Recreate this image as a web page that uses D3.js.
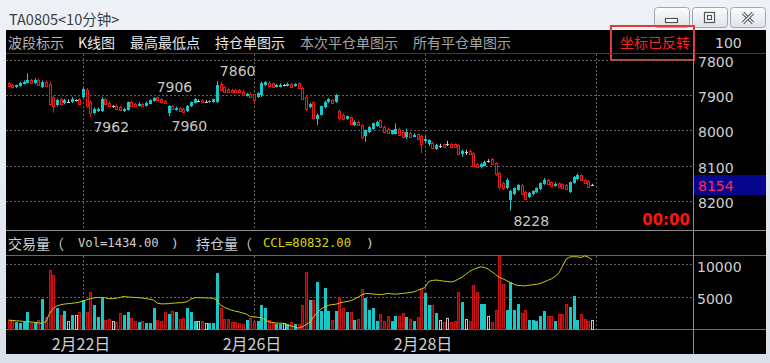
<!DOCTYPE html>
<html><head><meta charset="utf-8">
<script src="https://cdn.jsdelivr.net/npm/d3@7/dist/d3.min.js"></script>
<style>html,body{margin:0;padding:0;background:#dfe6ee;overflow:hidden}svg{display:block}</style>
</head><body><svg id="c" width="770" height="363"></svg>
<script>
// ---------- DATA ----------
const opens = [
7866,7872,7878,7873,7868,7864,7858,7866,7856,7878,
7862,7868,7905,7928,7912,7922,7918,7920,7915,7912,
7905,7884,7920,7950,7945,7944,7912,7922,7932,7930,
7934,7945,7942,7920,7925,7930,7926,7930,7924,7916,
7906,7910,7916,7952,7932,7942,7936,7938,7946,7932,
7922,7916,7914,7918,7920,7920,7918,7868,7878,7882,
7884,7884,7884,7890,7902,7896,7898,7905,7900,7872,
7864,7866,7876,7876,7872,7874,7868,7874,7866,7880,
7905,7935,7920,7968,7955,7935,7920,7914,7920,7945,
7955,7968,7962,7985,7975,7985,8015,8005,7995,7988,
7970,7990,7995,8010,8010,7995,8005,8020,8008,8018,
8010,8015,8030,8040,8035,8052,8044,8040,8040,8038,
8040,8042,8068,8062,8058,8065,8095,8105,8100,8088,
8082,8092,8120,8150,8165,8198,8180,8170,8155,8175,
8190,8182,8175,8168,8152,8140,8148,8158,8150,8152,
8155,8175,8150,8138,8128,8140,8145,8154];
const closes = [
7874,7878,7872,7866,7862,7856,7866,7856,7872,7862,
7874,7925,7930,7915,7925,7914,7918,7912,7915,7926,
7882,7930,7952,7940,7938,7910,7925,7930,7932,7938,
7942,7938,7920,7930,7932,7925,7930,7922,7915,7908,
7914,7920,7922,7932,7940,7936,7945,7948,7930,7920,
7912,7916,7920,7918,7916,7912,7870,7885,7890,7892,
7892,7892,7892,7900,7896,7906,7915,7895,7866,7862,
7875,7878,7872,7870,7872,7868,7876,7868,7880,7912,
7940,7925,7965,7955,7932,7918,7912,7922,7900,7965,
7968,7960,7982,7975,7985,8020,8000,7990,7980,7975,
7990,8005,8008,8000,7995,8012,8018,8005,8018,8012,
8025,8040,8025,8028,8050,8042,8044,8046,8040,8046,
8048,8068,8058,8062,8068,8100,8105,8095,8090,8088,
8095,8125,8160,8165,8140,8172,8165,8155,8180,8196,
8178,8172,8165,8150,8140,8152,8158,8152,8160,8165,
8168,8148,8132,8128,8142,8150,8160,8154];
const highs = [
7878,7881,7880,7875,7870,7866,7868,7868,7874,7880,
7877,7930,7950,7932,7928,7926,7920,7922,7918,7928,
7908,7935,7962,7955,7948,7948,7928,7932,7936,7940,
7944,7948,7944,7932,7934,7932,7932,7932,7926,7918,
7916,7922,7924,7960,7942,7944,7947,7950,7948,7934,
7924,7920,7922,7922,7922,7922,7922,7888,7892,7894,
7894,7894,7895,7902,7904,7908,7922,7908,7905,7874,
7877,7880,7878,7878,7875,7876,7878,7876,7882,7914,
7945,7938,7970,7985,7958,7938,7922,7925,7922,7970,
7972,7970,7985,7988,7988,8025,8033,8008,7998,7990,
7992,8008,8010,8012,8012,8015,8020,8025,8020,8020,
8028,8065,8035,8045,8052,8056,8050,8050,8045,8048,
8050,8070,8075,8070,8070,8102,8108,8108,8102,8092,
8098,8130,8168,8170,8168,8228,8184,8172,8184,8200,
8192,8185,8178,8170,8155,8155,8160,8160,8162,8168,
8170,8178,8152,8142,8144,8152,8162,8156];
const lows = [
7862,7868,7870,7862,7858,7838,7854,7852,7852,7858,
7858,7862,7900,7910,7908,7910,7912,7905,7912,7908,
7878,7880,7915,7935,7935,7905,7908,7918,7928,7926,
7930,7935,7918,7916,7922,7920,7922,7918,7912,7906,
7904,7908,7914,7928,7928,7932,7934,7936,7928,7918,
7908,7912,7912,7914,7914,7910,7860,7862,7875,7880,
7882,7882,7882,7886,7894,7892,7895,7892,7862,7860,
7860,7864,7868,7866,7868,7864,7866,7866,7864,7876,
7902,7922,7918,7952,7930,7915,7908,7912,7897,7940,
7952,7958,7960,7972,7972,7982,7998,7988,7978,7972,
7968,7986,7992,7998,7980,7992,8002,7995,8005,8008,
8008,8012,8015,8025,8032,8038,8038,8038,8030,8035,
8038,8040,8055,8055,8055,8062,8092,8092,8086,8082,
8078,8090,8118,8146,8136,8168,8162,8152,8152,8172,
8175,8170,8162,8148,8135,8138,8145,8148,8148,8150,
8152,8145,8130,8122,8125,8138,8142,8152];
const volumes = [
1400,1400,1100,1000,1100,2600,900,1100,1400,4600,
1800,9100,8300,3200,2100,2700,1200,2100,2100,2600,
4500,2600,5700,3700,1800,4800,1400,1500,1200,1100,
2400,2200,2600,1700,1200,1100,1200,900,1000,3300,
1400,1200,2600,2300,2700,2600,1500,1700,3200,2600,
1200,1200,1300,900,1000,1000,8600,3200,1600,1500,
1100,1100,900,800,1400,1700,1300,1300,3700,3300,
1400,1100,800,800,900,700,1100,800,700,3700,
8800,4500,4500,7300,2700,6300,2700,1400,2700,4700,
3200,2600,2600,1400,1600,6200,4800,2900,3300,1200,
2300,1200,2000,1200,2000,2000,2500,1900,1500,1200,
1900,6200,5500,3700,3700,2500,1400,1100,1700,1100,
1200,5700,4100,1500,1200,6800,5700,3800,3900,2000,
1100,2900,11300,7000,2900,7200,2900,3800,2400,2900,
1400,1400,1200,2000,2800,2000,2000,1200,2300,2300,
3800,3400,5100,1400,2300,1500,1200,1434];
const ccl = [
68792,68712,68632,68592,68532,68492,68412,68312,68232,68112,
68432,70112,71152,71632,71852,71992,72072,72152,72232,72352,
72612,72832,73092,73232,73292,73292,73232,73072,73072,73172,
73332,73492,73412,73352,73312,73252,73192,73072,72952,72772,
72172,72032,72032,72072,72152,72212,72252,72292,72452,72992,
73232,73272,73252,73212,73192,73172,72772,71772,71352,71032,
70752,70552,70412,70192,69972,69492,69432,69352,69232,68832,
68412,68312,68172,68172,68132,67792,67592,67392,67192,67432,
67872,68372,69372,70272,70952,71432,71732,71872,71952,72172,
72372,72492,72652,72972,73372,73832,74092,74092,73972,73932,
73872,73972,74112,74032,73972,74032,74112,74212,74312,74432,
74712,75032,75292,76512,76712,76792,76692,76572,76492,76412,
76592,76972,77372,77932,78512,78912,79192,79432,79312,78972,
78452,77892,77352,77032,76652,76292,75952,75712,75672,75632,
75752,75852,75932,76112,76412,76712,77012,77512,78152,79532,
80972,81412,81472,81432,81312,81612,81352,80832];
const priceTicks = [7800, 7900, 8000, 8100, 8200];
const volTicks = [5000, 10000];
const gridIdx = [20, 66, 112, 158];
const dateIdx = [20, 66, 112];
const dateLabels = ["2月22日", "2月26日", "2月28日"];
const annIdx = [22, 39, 43, 56, 135];
const annKind = ["high", "low", "high", "low", "high"];
const menuItems = ["波段标示", "K线图", "最高最低点", "持仓单图示", "本次平仓单图示", "所有平仓单图示"];
const title = "TA0805<10分钟>";

// ---------- LAYOUT ----------
const W = 770, H = 363;
const PL = 6, PR = 766, PT = 30, PB = 354, AX = 693;
const MAIN_T = 53, MAIN_B = 230, VOL_T = 255, VOL_B = 329;
const CJK = "'Noto Sans CJK SC','Noto Sans',sans-serif";
const NUM = "'DejaVu Sans',Verdana,sans-serif";
const MONO = "'DejaVu Sans Mono','Liberation Mono',monospace";
const RED = "#e41a1a", CYAN = "#16c9c9", WHITE = "#cfcfcf", GRID = "#626262";

const svg = d3.select("#c");
const defs = svg.append("defs");
const g1 = defs.append("linearGradient").attr("id", "bg").attr("x1", 0).attr("y1", 0).attr("x2", 0).attr("y2", 1);
g1.append("stop").attr("offset", 0).attr("stop-color", "#eef2f7");
g1.append("stop").attr("offset", 1).attr("stop-color", "#d9e0e9");
const g2 = defs.append("linearGradient").attr("id", "btn").attr("x1", 0).attr("y1", 0).attr("x2", 0).attr("y2", 1);
g2.append("stop").attr("offset", 0).attr("stop-color", "#fbfcfd");
g2.append("stop").attr("offset", 1).attr("stop-color", "#dde3ea");

svg.append("rect").attr("width", W).attr("height", H).attr("fill", "url(#bg)");
svg.append("text").attr("x", 9).attr("y", 18).attr("dominant-baseline", "central")
  .attr("font-family", CJK).attr("font-size", 14.5).attr("fill", "#3c3c3c").text(title);

// window buttons
const btnX = [654, 692, 730];
btnX.forEach((bx, k) => {
  svg.append("rect").attr("x", bx + 0.5).attr("y", 7.5).attr("width", 35).attr("height", 20).attr("rx", 3)
    .attr("fill", "url(#btn)").attr("stroke", "#9ea8b4");
  const cx = bx + 18, cy = 18;
  if (k === 0) svg.append("rect").attr("x", cx - 6.5).attr("y", cy + 0.5).attr("width", 12).attr("height", 4)
    .attr("fill", "#fff").attr("stroke", "#555").attr("stroke-width", 1.2);
  if (k === 1) {
    svg.append("rect").attr("x", cx - 5.5).attr("y", cy - 5.5).attr("width", 10).attr("height", 10)
      .attr("fill", "#fff").attr("stroke", "#555").attr("stroke-width", 1.2);
    svg.append("rect").attr("x", cx - 2.5).attr("y", cy - 2.5).attr("width", 4).attr("height", 4)
      .attr("fill", "none").attr("stroke", "#555").attr("stroke-width", 1.2);
  }
  if (k === 2) {
    [[-5, -5, 5, 5], [-5, 5, 5, -5]].forEach(s => {
      svg.append("line").attr("x1", cx + s[0]).attr("y1", cy + s[1]).attr("x2", cx + s[2]).attr("y2", cy + s[3])
        .attr("stroke", "#555").attr("stroke-width", 3.2);
      svg.append("line").attr("x1", cx + s[0]).attr("y1", cy + s[1]).attr("x2", cx + s[2]).attr("y2", cy + s[3])
        .attr("stroke", "#fff").attr("stroke-width", 1.2);
    });
  }
});

// black panel
svg.append("rect").attr("x", PL).attr("y", PT).attr("width", PR - PL).attr("height", PB - PT).attr("fill", "#000");

// menu
const menuX = [8, 78, 130, 215, 300, 413];
const menuCol = ["#b4b4b4", "#e6e6e6", "#e6e6e6", "#e6e6e6", "#a4a4a4", "#a4a4a4"];
menuItems.forEach((m, k) => svg.append("text").attr("x", menuX[k]).attr("y", 42).attr("dominant-baseline", "central")
  .attr("font-family", CJK).attr("font-size", 14).attr("fill", menuCol[k]).text(m));
svg.append("text").attr("x", 620).attr("y", 42).attr("dominant-baseline", "central")
  .attr("font-family", CJK).attr("font-size", 14).attr("fill", "#ff2222").text("坐标已反转");
svg.append("rect").attr("x", 611).attr("y", 26).attr("width", 83).attr("height", 34)
  .attr("fill", "none").attr("stroke", "#e23a3a").attr("stroke-width", 2);
svg.append("text").attr("x", 715).attr("y", 43).attr("dominant-baseline", "central")
  .attr("font-family", NUM).attr("font-size", 14).attr("fill", "#cfcfcf").text("100");

// scales
const x = d3.scaleLinear().domain([0, 157]).range([8.7, 592.2]);
const yP = d3.scaleLinear().domain([7800, 8200]).range([60, 200.7]);
const yV = d3.scaleLinear().domain([0, 10000]).range([VOL_B, 264]);
const yC = d3.scaleLinear().domain([67000, 81800]).range([VOL_B, 255]);

// frame lines
const hl = (y, c) => svg.append("line").attr("x1", PL).attr("x2", PR).attr("y1", y + 0.5).attr("y2", y + 0.5).attr("stroke", c);
hl(MAIN_T, "#3c3c3c"); hl(MAIN_B, "#8c8c8c"); hl(VOL_T, "#666"); hl(VOL_B, "#707070");
svg.append("line").attr("x1", AX + 0.5).attr("x2", AX + 0.5).attr("y1", MAIN_T).attr("y2", PB).attr("stroke", "#8c8c8c");

// grids
const grid = svg.append("g").attr("stroke", GRID).attr("stroke-dasharray", "2,2");
priceTicks.forEach(p => grid.append("line").attr("x1", PL).attr("x2", AX).attr("y1", Math.round(yP(p)) + 0.5).attr("y2", Math.round(yP(p)) + 0.5));
volTicks.forEach(v => grid.append("line").attr("x1", PL).attr("x2", AX).attr("y1", Math.round(yV(v)) + 0.5).attr("y2", Math.round(yV(v)) + 0.5));
gridIdx.forEach(i => {
  const gx = Math.round(x(i)) + 0.5;
  grid.append("line").attr("x1", gx).attr("x2", gx).attr("y1", MAIN_T + 1).attr("y2", MAIN_B);
  grid.append("line").attr("x1", gx).attr("x2", gx).attr("y1", VOL_T + 1).attr("y2", VOL_B);
});

// axes
const pAx = svg.append("g").attr("transform", `translate(${AX},2)`)
  .call(d3.axisRight(yP).tickValues(priceTicks).tickSize(0).tickPadding(5).tickFormat(d3.format("d")));
const vAx = svg.append("g").attr("transform", `translate(${AX},3)`)
  .call(d3.axisRight(yV).tickValues(volTicks).tickSize(0).tickPadding(4).tickFormat(d3.format("d")));
[pAx, vAx].forEach(a => {
  a.select(".domain").remove();
  a.selectAll("text").attr("font-family", NUM).attr("font-size", 14).attr("fill", "#cfcfcf");
});

// candles
const cg = svg.append("g");
opens.forEach((o, i) => {
  const c = closes[i], cx = Math.round(x(i));
  const col = c > o ? RED : (c < o ? CYAN : WHITE);
  cg.append("line").attr("x1", cx + 0.5).attr("x2", cx + 0.5).attr("y1", yP(lows[i])).attr("y2", yP(highs[i]))
    .attr("stroke", col).attr("stroke-width", 1);
  const y1 = Math.round(yP(Math.min(o, c))), y2 = Math.round(yP(Math.max(o, c)));
  if (c > o) {
    cg.append("rect").attr("x", cx - 0.5).attr("y", y1 + 0.5).attr("width", 2).attr("height", Math.max(1, y2 - y1))
      .attr("fill", "#200000").attr("stroke", col);
  } else if (c < o) {
    cg.append("rect").attr("x", cx - 1).attr("y", y1).attr("width", 3).attr("height", Math.max(1, y2 - y1)).attr("fill", col);
  } else {
    cg.append("line").attr("x1", cx - 1).attr("x2", cx + 2).attr("y1", y1 + 0.5).attr("y2", y1 + 0.5).attr("stroke", col);
  }
});

// annotations
annIdx.forEach((i, k) => {
  const v = annKind[k] === "high" ? highs[i] : lows[i];
  const ay = yP(v) + (annKind[k] === "high" ? 10 : -10);
  svg.append("text").attr("x", x(i) + 3).attr("y", ay).attr("dominant-baseline", "central")
    .attr("font-family", NUM).attr("font-size", 14).attr("fill", "#c8c8c8").text(v);
});

// last price box
const last = closes[closes.length - 1];
svg.append("rect").attr("x", AX + 1).attr("y", Math.round(yP(last)) - 10).attr("width", PR - AX - 1).attr("height", 20).attr("fill", "#06068c");
svg.append("text").attr("x", AX + 5).attr("y", yP(last) + 1).attr("dominant-baseline", "central")
  .attr("font-family", NUM).attr("font-size", 14).attr("fill", "#ff2a5a").text(last);
svg.append("text").attr("x", 690).attr("y", 220).attr("dominant-baseline", "central").attr("text-anchor", "end")
  .attr("font-family", NUM).attr("font-size", 15).attr("font-weight", "bold").attr("fill", "#ff1414").text("00:00");

// volume header
const hy = 243;
const ht = (tx, s, f, fs, c) => svg.append("text").attr("x", tx).attr("y", hy).attr("dominant-baseline", "central")
  .attr("font-family", f).attr("font-size", fs).attr("fill", c).text(s);
ht(8, "交易量（", CJK, 14, "#cfcfcf");
ht(78, "Vol=" + volumes[volumes.length - 1].toFixed(2), MONO, 12.2, "#cfcfcf");
ht(171, ")", MONO, 13, "#cfcfcf");
ht(196, "持仓量（", CJK, 14, "#cfcfcf");
ht(263, "CCL=" + ccl[ccl.length - 1].toFixed(2), MONO, 12.2, "#d9d900");
ht(366, ")", MONO, 13, "#cfcfcf");

// volume bars
const vg = svg.append("g");
volumes.forEach((v, i) => {
  const o = opens[i], c = closes[i], cx = Math.round(x(i));
  const top = Math.round(yV(v));
  if (c > o) {
    vg.append("rect").attr("x", cx - 0.5).attr("y", top + 0.5).attr("width", 2).attr("height", VOL_B - top)
      .attr("fill", "#8a0000").attr("stroke", "#c81414");
  } else if (c < o) {
    vg.append("rect").attr("x", cx - 1).attr("y", top).attr("width", 3).attr("height", VOL_B - top + 0.5).attr("fill", CYAN);
  } else {
    vg.append("rect").attr("x", cx - 0.5).attr("y", top + 0.5).attr("width", 2).attr("height", VOL_B - top)
      .attr("fill", "none").attr("stroke", "#c4c4c4");
  }
});

// open interest line
svg.append("path").datum(ccl)
  .attr("d", d3.line().x((d, i) => x(i)).y(d => yC(d)))
  .attr("fill", "none").attr("stroke", "#cccc10").attr("stroke-width", 1);

// date labels
dateIdx.forEach((i, k) => svg.append("text").attr("x", x(i) - 2).attr("y", 343).attr("dominant-baseline", "central")
  .attr("text-anchor", "middle").attr("font-family", CJK).attr("font-size", 16).attr("fill", "#cfcfcf").text(dateLabels[k]));
</script></body></html>
